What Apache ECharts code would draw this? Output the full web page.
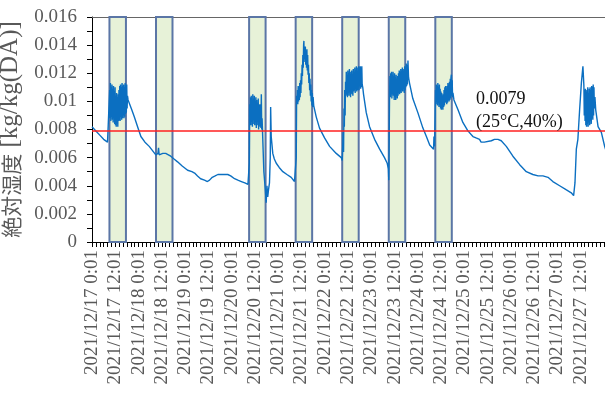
<!DOCTYPE html>
<html>
<head>
<meta charset="utf-8">
<script src="https://cdn.jsdelivr.net/npm/echarts@6/dist/echarts.min.js"></script>
<style>
  html, body { margin: 0; padding: 0; background: #fff; }
  #chart { width: 605px; height: 394px; }
</style>
</head>
<body>
<div id="chart"></div>
<script>
// Absolute humidity log, hours counted from 2021/12/17 0:01, value in kg/kg(DA)
const trace17to19 = [
  [0, 0.0082], [1, 0.0081], [2, 0.0079], [3, 0.0078], [4, 0.0076], [5, 0.0075], [6, 0.0073], [7, 0.0072], [8, 0.0071], [8.6, 0.0070], [8.9, 0.0072],
  [9.1, 0.0108], [9.3, 0.0088], [9.5, 0.0113], [9.7, 0.0086], [9.9, 0.0110], [10.1, 0.0089], [10.3, 0.0112], [10.5, 0.0087], [10.7, 0.0109], [10.9, 0.0085],
  [11.1, 0.0111], [11.3, 0.0088], [11.5, 0.0107], [11.7, 0.0084], [11.9, 0.0110], [12.1, 0.0083], [12.3, 0.0104], [12.5, 0.0082], [12.7, 0.0106], [12.9, 0.0084],
  [13.1, 0.0103], [13.3, 0.0082], [13.5, 0.0105], [13.7, 0.0086], [13.9, 0.0108], [14.1, 0.0087], [14.3, 0.0111], [14.5, 0.0086], [14.7, 0.0112], [14.9, 0.0089],
  [15.1, 0.0110], [15.3, 0.0087], [15.5, 0.0113], [15.7, 0.0088], [15.9, 0.0111], [16.1, 0.0090], [16.3, 0.0112], [16.5, 0.0088], [16.7, 0.0110], [16.9, 0.0089],
  [17.1, 0.0113], [17.3, 0.0091], [17.5, 0.0111], [17.7, 0.0092], [17.9, 0.0112], [18.1, 0.0095], [18.3, 0.0104], [18.6, 0.0101],
  [19.2, 0.0100], [20.5, 0.0094], [21.8, 0.0089], [23.5, 0.0082], [25.2, 0.0075], [27.3, 0.0071], [29.5, 0.0068], [31.2, 0.0065], [32.9, 0.0062],
  [33.6, 0.0061], [34.0, 0.0063], [34.3, 0.0067], [34.6, 0.0062], [35.2, 0.0062], [36.5, 0.0063], [38.0, 0.0063], [39.4, 0.0062], [40.6, 0.0061],
  [42.3, 0.0059], [44.1, 0.0057], [46.5, 0.0054], [49.3, 0.0051], [51.5, 0.0050], [52.9, 0.0049], [54.4, 0.0047], [56.0, 0.0045], [58.0, 0.0044],
  [59.5, 0.0043], [60.6, 0.0044], [62.0, 0.0046], [63.5, 0.0047], [64.9, 0.0048], [66.5, 0.0048], [68.3, 0.0048], [70.0, 0.0048], [71.5, 0.0047]
];
const trace20to22 = [
  [73.5, 0.0045], [75.2, 0.0044], [77.0, 0.0043], [78.8, 0.0042], [80.4, 0.0041], [80.9, 0.0041],
  [81.1, 0.0056], [81.3, 0.0098], [81.5, 0.0085], [81.7, 0.0103], [81.9, 0.0083], [82.1, 0.0104], [82.3, 0.0086], [82.5, 0.0101], [82.7, 0.0082], [82.9, 0.0105],
  [83.1, 0.0084], [83.3, 0.0102], [83.5, 0.0087], [83.7, 0.0104], [83.9, 0.0083], [84.1, 0.0100], [84.3, 0.0085], [84.5, 0.0103], [84.7, 0.0081], [84.9, 0.0101],
  [85.1, 0.0086], [85.3, 0.0099], [85.5, 0.0083], [85.7, 0.0102], [85.9, 0.0080], [86.1, 0.0097], [86.3, 0.0084], [86.5, 0.0098], [86.7, 0.0082], [86.9, 0.0095],
  [87.1, 0.0081], [87.3, 0.0105], [87.5, 0.0080], [87.7, 0.0088], [88.0, 0.0075], [88.6, 0.0050], [89.3, 0.0038], [89.8, 0.0028], [90.2, 0.0040], [90.6, 0.0032],
  [91.0, 0.0037], [91.5, 0.0042], [91.9, 0.0060], [92.1, 0.0096], [92.4, 0.0075], [93.2, 0.0063], [94.0, 0.0059], [95.0, 0.0056], [96.5, 0.0053], [98.4, 0.0050],
  [100.5, 0.0048], [102.7, 0.0046], [104.4, 0.0043], [105.0, 0.0042],
  [105.3, 0.0060], [105.5, 0.0104], [105.7, 0.0099], [105.9, 0.0108], [106.1, 0.0098], [106.3, 0.0111], [106.5, 0.0100], [106.7, 0.0110], [106.9, 0.0101],
  [107.1, 0.0113], [107.3, 0.0103], [107.5, 0.0115], [107.7, 0.0106], [107.9, 0.0120], [108.1, 0.0112], [108.3, 0.0126], [108.5, 0.0118], [108.7, 0.0133],
  [108.9, 0.0124], [109.1, 0.0140], [109.25, 0.0143], [109.4, 0.0130], [109.6, 0.0138], [109.8, 0.0128], [110.0, 0.0139], [110.2, 0.0126], [110.4, 0.0136],
  [110.6, 0.0124], [110.8, 0.0137], [111.0, 0.0122], [111.2, 0.0133], [111.4, 0.0119], [111.6, 0.0126], [111.8, 0.0113], [112.0, 0.0120], [112.2, 0.0108],
  [112.4, 0.0116], [112.6, 0.0104], [112.8, 0.0112], [113.0, 0.0100], [113.2, 0.0108], [113.4, 0.0097], [113.6, 0.0106], [113.8, 0.0096], [114.0, 0.0103],
  [114.3, 0.0097], [114.7, 0.0096], [115.6, 0.0089], [117.3, 0.0081], [119.9, 0.0074], [122.5, 0.0068], [125.9, 0.0063], [128.5, 0.0060],
  [129.0, 0.0058], [129.3, 0.0057], [129.5, 0.0078], [129.7, 0.0064], [129.9, 0.0095], [130.1, 0.0082], [130.3, 0.0108], [130.5, 0.0090], [130.7, 0.0114],
  [130.9, 0.0104], [131.1, 0.0121], [131.3, 0.0105], [131.5, 0.0118], [131.7, 0.0103], [131.9, 0.0122], [132.1, 0.0106], [132.3, 0.0120], [132.5, 0.0104],
  [132.7, 0.0123], [132.9, 0.0107], [133.1, 0.0119], [133.3, 0.0103], [133.5, 0.0121], [133.7, 0.0106], [133.9, 0.0122], [134.1, 0.0105], [134.3, 0.0119],
  [134.5, 0.0104], [134.7, 0.0123], [134.9, 0.0107], [135.1, 0.0121], [135.3, 0.0108], [135.5, 0.0124], [135.7, 0.0106], [135.9, 0.0122], [136.1, 0.0109],
  [136.3, 0.0125], [136.5, 0.0107], [136.7, 0.0121], [136.9, 0.0108], [137.1, 0.0124], [137.3, 0.0110], [137.5, 0.0125], [137.7, 0.0108], [137.9, 0.0124],
  [138.1, 0.0111], [138.3, 0.0125], [138.5, 0.0109], [138.7, 0.0124], [138.9, 0.0110], [139.1, 0.0125], [139.3, 0.0112], [139.6, 0.0110], [140.0, 0.0105],
  [141.4, 0.0092], [143.1, 0.0082]
];
const trace23to25 = [
  [145.7, 0.0073], [148.3, 0.0066], [150.8, 0.0060], [152.2, 0.0056], [152.8, 0.0052], [153.0, 0.0044],
  [153.2, 0.0070], [153.4, 0.0104], [153.6, 0.0118], [153.8, 0.0103], [154.0, 0.0120], [154.2, 0.0105], [154.4, 0.0121], [154.6, 0.0102], [154.8, 0.0119],
  [155.0, 0.0106], [155.2, 0.0121], [155.4, 0.0104], [155.6, 0.0118], [155.8, 0.0101], [156.0, 0.0120], [156.2, 0.0103], [156.4, 0.0117], [156.6, 0.0101],
  [156.8, 0.0119], [157.0, 0.0105], [157.2, 0.0116], [157.4, 0.0102], [157.6, 0.0118], [157.8, 0.0104], [158.0, 0.0120], [158.2, 0.0106], [158.4, 0.0122],
  [158.6, 0.0105], [158.8, 0.0121], [159.0, 0.0107], [159.2, 0.0123], [159.4, 0.0106], [159.6, 0.0122], [159.8, 0.0108], [160.0, 0.0124], [160.2, 0.0107],
  [160.4, 0.0123], [160.6, 0.0109], [160.8, 0.0122], [161.0, 0.0106], [161.2, 0.0125], [161.4, 0.0108], [161.6, 0.0124], [161.8, 0.0110], [162.0, 0.0127],
  [162.2, 0.0111], [162.4, 0.0126], [162.6, 0.0112], [162.9, 0.0129], [163.2, 0.0117], [163.7, 0.0113], [165.4, 0.0102], [168.0, 0.0092], [170.6, 0.0081],
  [172.4, 0.0075], [174.1, 0.0069], [176.1, 0.0066], [176.3, 0.0075], [176.6, 0.0068],
  [176.9, 0.0090], [177.1, 0.0108], [177.3, 0.0098], [177.5, 0.0112], [177.7, 0.0100], [177.9, 0.0111], [178.1, 0.0097], [178.3, 0.0113], [178.5, 0.0099],
  [178.7, 0.0110], [178.9, 0.0096], [179.1, 0.0112], [179.3, 0.0098], [179.5, 0.0109], [179.7, 0.0095], [179.9, 0.0107], [180.1, 0.0094], [180.3, 0.0106],
  [180.5, 0.0095], [180.7, 0.0104], [180.9, 0.0094], [181.1, 0.0105], [181.3, 0.0096], [181.5, 0.0108], [181.7, 0.0097], [181.9, 0.0110], [182.1, 0.0099],
  [182.3, 0.0111], [182.5, 0.0100], [182.7, 0.0109], [182.9, 0.0098], [183.1, 0.0111], [183.3, 0.0099], [183.5, 0.0113], [183.7, 0.0101], [183.9, 0.0112],
  [184.1, 0.0100], [184.3, 0.0114], [184.5, 0.0101], [184.7, 0.0116], [184.9, 0.0102], [185.1, 0.0117], [185.3, 0.0119], [185.5, 0.0104], [185.7, 0.0115],
  [185.9, 0.0103], [186.1, 0.0106], [186.6, 0.0101], [188.7, 0.0094], [191.2, 0.0085], [193.8, 0.0079], [196.4, 0.0075], [198.0, 0.0074], [199.8, 0.0073],
  [200.6, 0.0071], [201.5, 0.0072], [202.3, 0.0071], [203.3, 0.0072], [205.9, 0.0072], [207.5, 0.0073], [209.3, 0.0073], [211.0, 0.0072], [213.6, 0.0068]
];
const trace26to27 = [
  [217.0, 0.0061], [220.5, 0.0055], [223.9, 0.0050], [227.3, 0.0048], [230.0, 0.0047], [232.5, 0.0047], [235.1, 0.0046], [237.6, 0.0043], [241.1, 0.0040],
  [244.6, 0.0037], [247.1, 0.0035], [248.3, 0.0033], [249.0, 0.0042], [249.7, 0.0066], [250.5, 0.0073], [251.4, 0.0094], [252.3, 0.0113], [253.1, 0.0125],
  [253.6, 0.0111], [253.8, 0.0090], [254.0, 0.0108], [254.2, 0.0086], [254.4, 0.0109], [254.6, 0.0083], [254.8, 0.0107], [255.0, 0.0082], [255.2, 0.0108],
  [255.4, 0.0084], [255.6, 0.0110], [255.8, 0.0082], [256.0, 0.0106], [256.2, 0.0085], [256.4, 0.0109], [256.6, 0.0083], [256.8, 0.0110], [257.0, 0.0086],
  [257.2, 0.0108], [257.4, 0.0084], [257.6, 0.0111], [257.8, 0.0088], [258.0, 0.0110], [258.2, 0.0087], [258.4, 0.0112], [258.6, 0.0090], [258.8, 0.0110],
  [259.0, 0.0095], [259.3, 0.0103], [259.7, 0.0094], [260.9, 0.0082], [262.6, 0.0078], [264.3, 0.0068], [265.0, 0.0065]
];

// Occupied periods (hours from start)
const occupiedStart = [9, 33, 81, 105, 129, 153, 177];
const occupiedEnd = [17.5, 41.5, 89.5, 113.5, 137.5, 161.5, 185.5];

// Reference level: 25°C, 40%RH
const referenceHumidity = 0.0079;
const referenceText = ['0.0079', '(25°C,40%)'];

const axisStartDay = 17;
const axisHours = 265;
const labelStepHours = 12;
const yMin = 0, yMax = 0.016, yStep = 0.002;
const yAxisTitle = ['絶対湿度', ' [kg/kg(DA)]'];

const trace = [].concat(trace17to19, trace20to22, trace23to25, trace26to27);

const chart = echarts.init(document.getElementById('chart'), null, { renderer: 'canvas' });
const serif = "'Liberation Serif', 'Times New Roman', serif";
const grey = '#595959';

const option = {
  animation: false,
  grid: { left: 92, top: 17, width: 514, height: 225, containLabel: false, outerBoundsMode: 'none' },
  xAxis: [{
    type: 'value', min: 0, max: axisHours, interval: labelStepHours,
    axisLine: { show: true, lineStyle: { color: '#000', width: 1 } },
    axisTick: { show: true, inside: false, length: 5, lineStyle: { color: '#000' } },
    minorTick: { show: true, splitNumber: 6, length: 5, lineStyle: { color: '#000' } },
    splitLine: { show: false },
    axisLabel: {
      rotate: 90, margin: 8, color: grey, fontFamily: serif, fontSize: 19,
      showMaxLabel: false, hideOverlap: false,
      formatter: function (v) {
        if (v >= 264) return '';
        const day = axisStartDay + Math.floor(v / 24);
        const hr = v % 24;
        return '2021/12/' + day + ' ' + hr + ':01';
      }
    }
  }, {
    type: 'value', position: 'top', min: 0, max: axisHours,
    axisLine: { show: true, onZero: false, lineStyle: { color: '#666', width: 1 } },
    axisTick: { show: false }, axisLabel: { show: false }, splitLine: { show: false }
  }],
  yAxis: {
    type: 'value', min: yMin, max: yMax, interval: yStep,
    axisLine: { show: true, lineStyle: { color: '#000', width: 1 } },
    axisTick: { show: true, inside: false, length: 5, lineStyle: { color: '#000' } },
    minorTick: { show: true, splitNumber: 2, length: 5, lineStyle: { color: '#000' } },
    splitLine: { show: false },
    axisLabel: { margin: 15, color: grey, fontFamily: serif, fontSize: 19 },
    name: '{cjk|' + yAxisTitle[0] + '}{lat|' + yAxisTitle[1] + '}',
    nameLocation: 'middle', nameGap: 62,
    nameTextStyle: {
      color: grey,
      rich: {
        cjk: { fontFamily: "'Noto Sans CJK JP'", fontSize: 21, color: grey },
        lat: { fontFamily: serif, fontSize: 25, color: grey }
      }
    }
  },
  series: [{
    type: 'line', z: 1, data: [], silent: true,
    markArea: {
      silent: true,
      itemStyle: { color: '#e7f2d8', borderColor: '#5b76a6', borderWidth: 2 },
      data: occupiedStart.map(function (s, i) {
        return [{ xAxis: s, yAxis: yMin }, { xAxis: occupiedEnd[i], yAxis: yMax }];
      })
    }
  }, {
    type: 'line', z: 3, data: trace, showSymbol: false, symbol: 'none',
    lineStyle: { color: '#0b6fc1', width: 1.4 },
    itemStyle: { color: '#0b6fc1' },
    markLine: {
      silent: true, symbol: 'none', label: { show: false }, z: 5, precision: 6,
      lineStyle: { color: '#ff2020', width: 1.5, type: 'solid' },
      data: [{ yAxis: referenceHumidity }]
    }
  }],
  graphic: [{
    type: 'text', left: 476, top: 88, z: 10,
    style: {
      text: referenceText.join('\n'), fill: '#111', font: '18px ' + serif, lineHeight: 23
    }
  }]
};
chart.setOption(option);
</script>
</body>
</html>
